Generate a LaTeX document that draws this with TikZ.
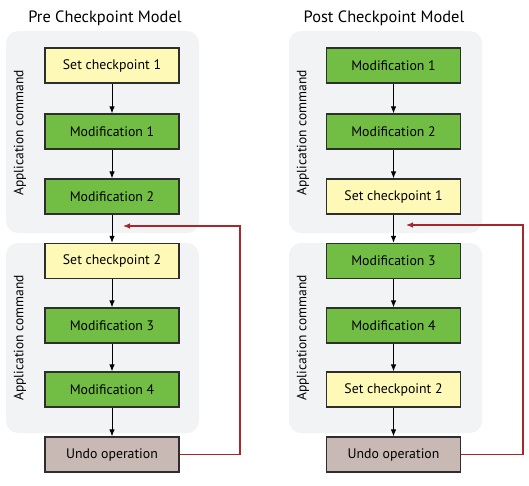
\documentclass[tikz,border=0pt]{standalone}
\usepackage{fontspec}
\setmainfont{PT Sans}
\usetikzlibrary{arrows.meta}
\definecolor{ckyellow}{HTML}{FEF9B6}
\definecolor{ckgreen}{HTML}{72BE44}
\definecolor{ckundo}{HTML}{C8B9B4}
\definecolor{ckgroup}{HTML}{F2F3F5}
\definecolor{ckred}{HTML}{A8272D}
\definecolor{ckborder}{HTML}{2E2E2E}
\tikzset{
  box/.style={draw=ckborder, line width=1.2pt, minimum width=134pt, minimum height=35pt, inner sep=0pt, font=\fontsize{13.8}{16}\selectfont},
  ybox/.style={box, fill=ckyellow},
  gbox/.style={box, fill=ckgreen},
  ubox/.style={box, fill=ckundo},
  grp/.style={fill=ckgroup, rounded corners=12pt},
  flow/.style={draw=black, line width=1pt, -{Latex[length=7pt,width=5.5pt]}},
  undoline/.style={draw=ckred, line width=1.1pt, -{Latex[length=7pt,width=5.5pt]}},
  grplabel/.style={rotate=90, font=\fontsize{13.5}{15}\selectfont},
  ttl/.style={font=\fontsize{16.4}{19}\selectfont}
}
\begin{document}
\begin{tikzpicture}[x=1pt,y=-1pt]
\useasboundingbox (0,0) rectangle (529,485);
% group backgrounds
\fill[grp] (6,31) rectangle (199,233);
\fill[grp] (6,243) rectangle (199,433);
\fill[grp] (289,31) rectangle (482,233);
\fill[grp] (289,243) rectangle (482,433);
% titles
\node[ttl] (t1) at (105,18) {Pre Checkpoint Model};
\node[ttl] (t2) at (384,18) {Post Checkpoint Model};
% group labels
\node[grplabel] (g1) at (20,133) {Application command};
\node[grplabel] (g2) at (20,338) {Application command};
\node[grplabel] (g3) at (303,133) {Application command};
\node[grplabel] (g4) at (303,338) {Application command};
% left column
\node[ybox] (la) at (112,65.5) {Set checkpoint 1};
\node[gbox] (lb) at (112,131.5) {Modification 1};
\node[gbox] (lc) at (112,196.5) {Modification 2};
\node[ybox] (ld) at (112,261) {Set checkpoint 2};
\node[gbox] (le) at (112,325.5) {Modification 3};
\node[gbox] (lf) at (112,389.5) {Modification 4};
\node[ubox] (lg) at (112,454.5) {Undo operation};
% right column
\node[gbox] (ra) at (393.5,65.5) {Modification 1};
\node[gbox] (rb) at (393.5,131.5) {Modification 2};
\node[ybox] (rc) at (393.5,196.5) {Set checkpoint 1};
\node[gbox] (rd) at (393.5,261) {Modification 3};
\node[gbox] (re) at (393.5,325.5) {Modification 4};
\node[ybox] (rf) at (393.5,389.5) {Set checkpoint 2};
\node[ubox] (rg) at (393.5,454.5) {Undo operation};
% flow arrows
\draw[flow] (la) -- (lb);
\draw[flow] (lb) -- (lc);
\draw[flow] (lc) -- (ld);
\draw[flow] (ld) -- (le);
\draw[flow] (le) -- (lf);
\draw[flow] (lf) -- (lg);
\draw[flow] (ra) -- (rb);
\draw[flow] (rb) -- (rc);
\draw[flow] (rc) -- (rd);
\draw[flow] (rd) -- (re);
\draw[flow] (re) -- (rf);
\draw[flow] (rf) -- (rg);
% undo return lines
\coordinate (lt) at (123,226);
\coordinate (rt) at (406,225);
\draw[undoline] (lg.east) -- (240,454.5) -- (240,226) -- (lt);
\draw[undoline] (rg.east) -- (523,454.5) -- (523,225) -- (rt);
\end{tikzpicture}
\end{document}
